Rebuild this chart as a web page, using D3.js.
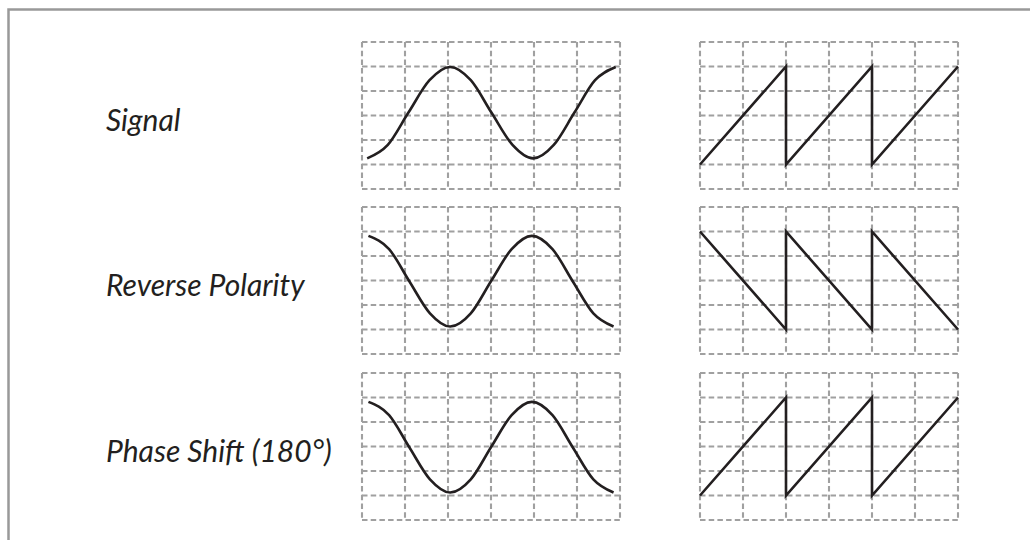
<!DOCTYPE html>
<html>
<head>
<meta charset="utf-8">
<script src="https://cdn.jsdelivr.net/npm/d3@7"></script>
<style>
  html, body { margin: 0; padding: 0; background: #fff; }
  svg { display: block; }
</style>
</head>
<body>
<div id="chart"></div>
<script>
// row labels
var labels = ["Signal", "Reverse Polarity", "Phase Shift (180°)"];

// sine waves, x in grid columns (0..6), y in grid rows from centre (-3..3)
var sineX1 = [0.12, 0.60, 1.08, 1.57, 2.05, 2.53, 3.01, 3.50, 3.98, 4.46, 4.94, 5.42, 5.90];
var sineY1 = [-1.75, -1.20, 0.12, 1.44, 1.98, 1.44, 0.12, -1.20, -1.75, -1.20, 0.12, 1.44, 1.98];

var sineX2 = [0.15, 0.63, 1.10, 1.58, 2.05, 2.53, 3.00, 3.48, 3.95, 4.43, 4.90, 5.38, 5.85];
var sineY2 = [1.82, 1.28, -0.03, -1.34, -1.88, -1.34, -0.03, 1.28, 1.82, 1.28, -0.03, -1.34, -1.88];

var sineX3 = [0.15, 0.63, 1.10, 1.58, 2.05, 2.53, 3.00, 3.48, 3.95, 4.43, 4.90, 5.38, 5.85];
var sineY3 = [1.82, 1.28, -0.03, -1.34, -1.88, -1.34, -0.03, 1.28, 1.82, 1.28, -0.03, -1.34, -1.88];

// sawtooth waves
var sawX1 = [0, 2, 2, 4, 4, 6];
var sawY1 = [-2, 2, -2, 2, -2, 2];

var sawX2 = [0, 2, 2, 4, 4, 6];
var sawY2 = [2, -2, 2, -2, 2, -2];

var sawX3 = [0, 2, 2, 4, 4, 6];
var sawY3 = [-2, 2, -2, 2, -2, 2];

var sines = [[sineX1, sineY1], [sineX2, sineY2], [sineX3, sineY3]];
var saws = [[sawX1, sawY1], [sawX2, sawY2], [sawX3, sawY3]];

var W = 1030, H = 540;
var rowTop = [42, 207, 373];
var panH = 147;
var panLeft = [362, 700];
var panW = 258;

var svg = d3.select("#chart").append("svg")
    .attr("width", W)
    .attr("height", H);

// frame
svg.append("path")
    .attr("d", "M8.5," + H + "V9.5H" + W)
    .attr("fill", "none")
    .attr("stroke", "#999")
    .attr("stroke-width", 2.5);

var xs = d3.scaleLinear().domain([0, 6]);
var ys = d3.scaleLinear().domain([-3, 3]);

function panel(g, x0, y0, xv, yv, curve) {
    var x = xs.copy().range([x0, x0 + panW]);
    var y = ys.copy().range([y0 + panH, y0]);

    var grid = g.append("g")
        .attr("stroke", "#a0a0a0")
        .attr("stroke-width", 2.1)
        .attr("stroke-dasharray", "5.5,3.2");

    grid.selectAll(".v").data(d3.range(0, 7))
        .enter().append("line")
        .attr("x1", function(d){ return x(d); })
        .attr("x2", function(d){ return x(d); })
        .attr("y1", y(3))
        .attr("y2", y(-3));

    grid.selectAll(".h").data(d3.range(-3, 4))
        .enter().append("line")
        .attr("x1", x(0))
        .attr("x2", x(6))
        .attr("y1", function(d){ return y(d); })
        .attr("y2", function(d){ return y(d); });

    var pts = xv.map(function(d, i){ return [d, yv[i]]; });

    var line = d3.line()
        .x(function(d){ return x(d[0]); })
        .y(function(d){ return y(d[1]); })
        .curve(curve);

    g.append("path")
        .attr("d", line(pts))
        .attr("fill", "none")
        .attr("stroke", "#231f20")
        .attr("stroke-width", 2.6)
        .attr("stroke-linejoin", "miter");
}

for (var r = 0; r < 3; r++) {
    var g = svg.append("g");

    g.append("text")
        .attr("x", 106)
        .attr("y", rowTop[r] + panH / 2 + 15)
        .attr("font-family", "Lato, sans-serif")
        .attr("font-style", "italic")
        .attr("font-size", 30)
        .attr("fill", "#231f20")
        .text(labels[r]);

    panel(g, panLeft[0], rowTop[r], sines[r][0], sines[r][1], d3.curveMonotoneX);
    panel(g, panLeft[1], rowTop[r], saws[r][0], saws[r][1], d3.curveLinear);
}
</script>
</body>
</html>
